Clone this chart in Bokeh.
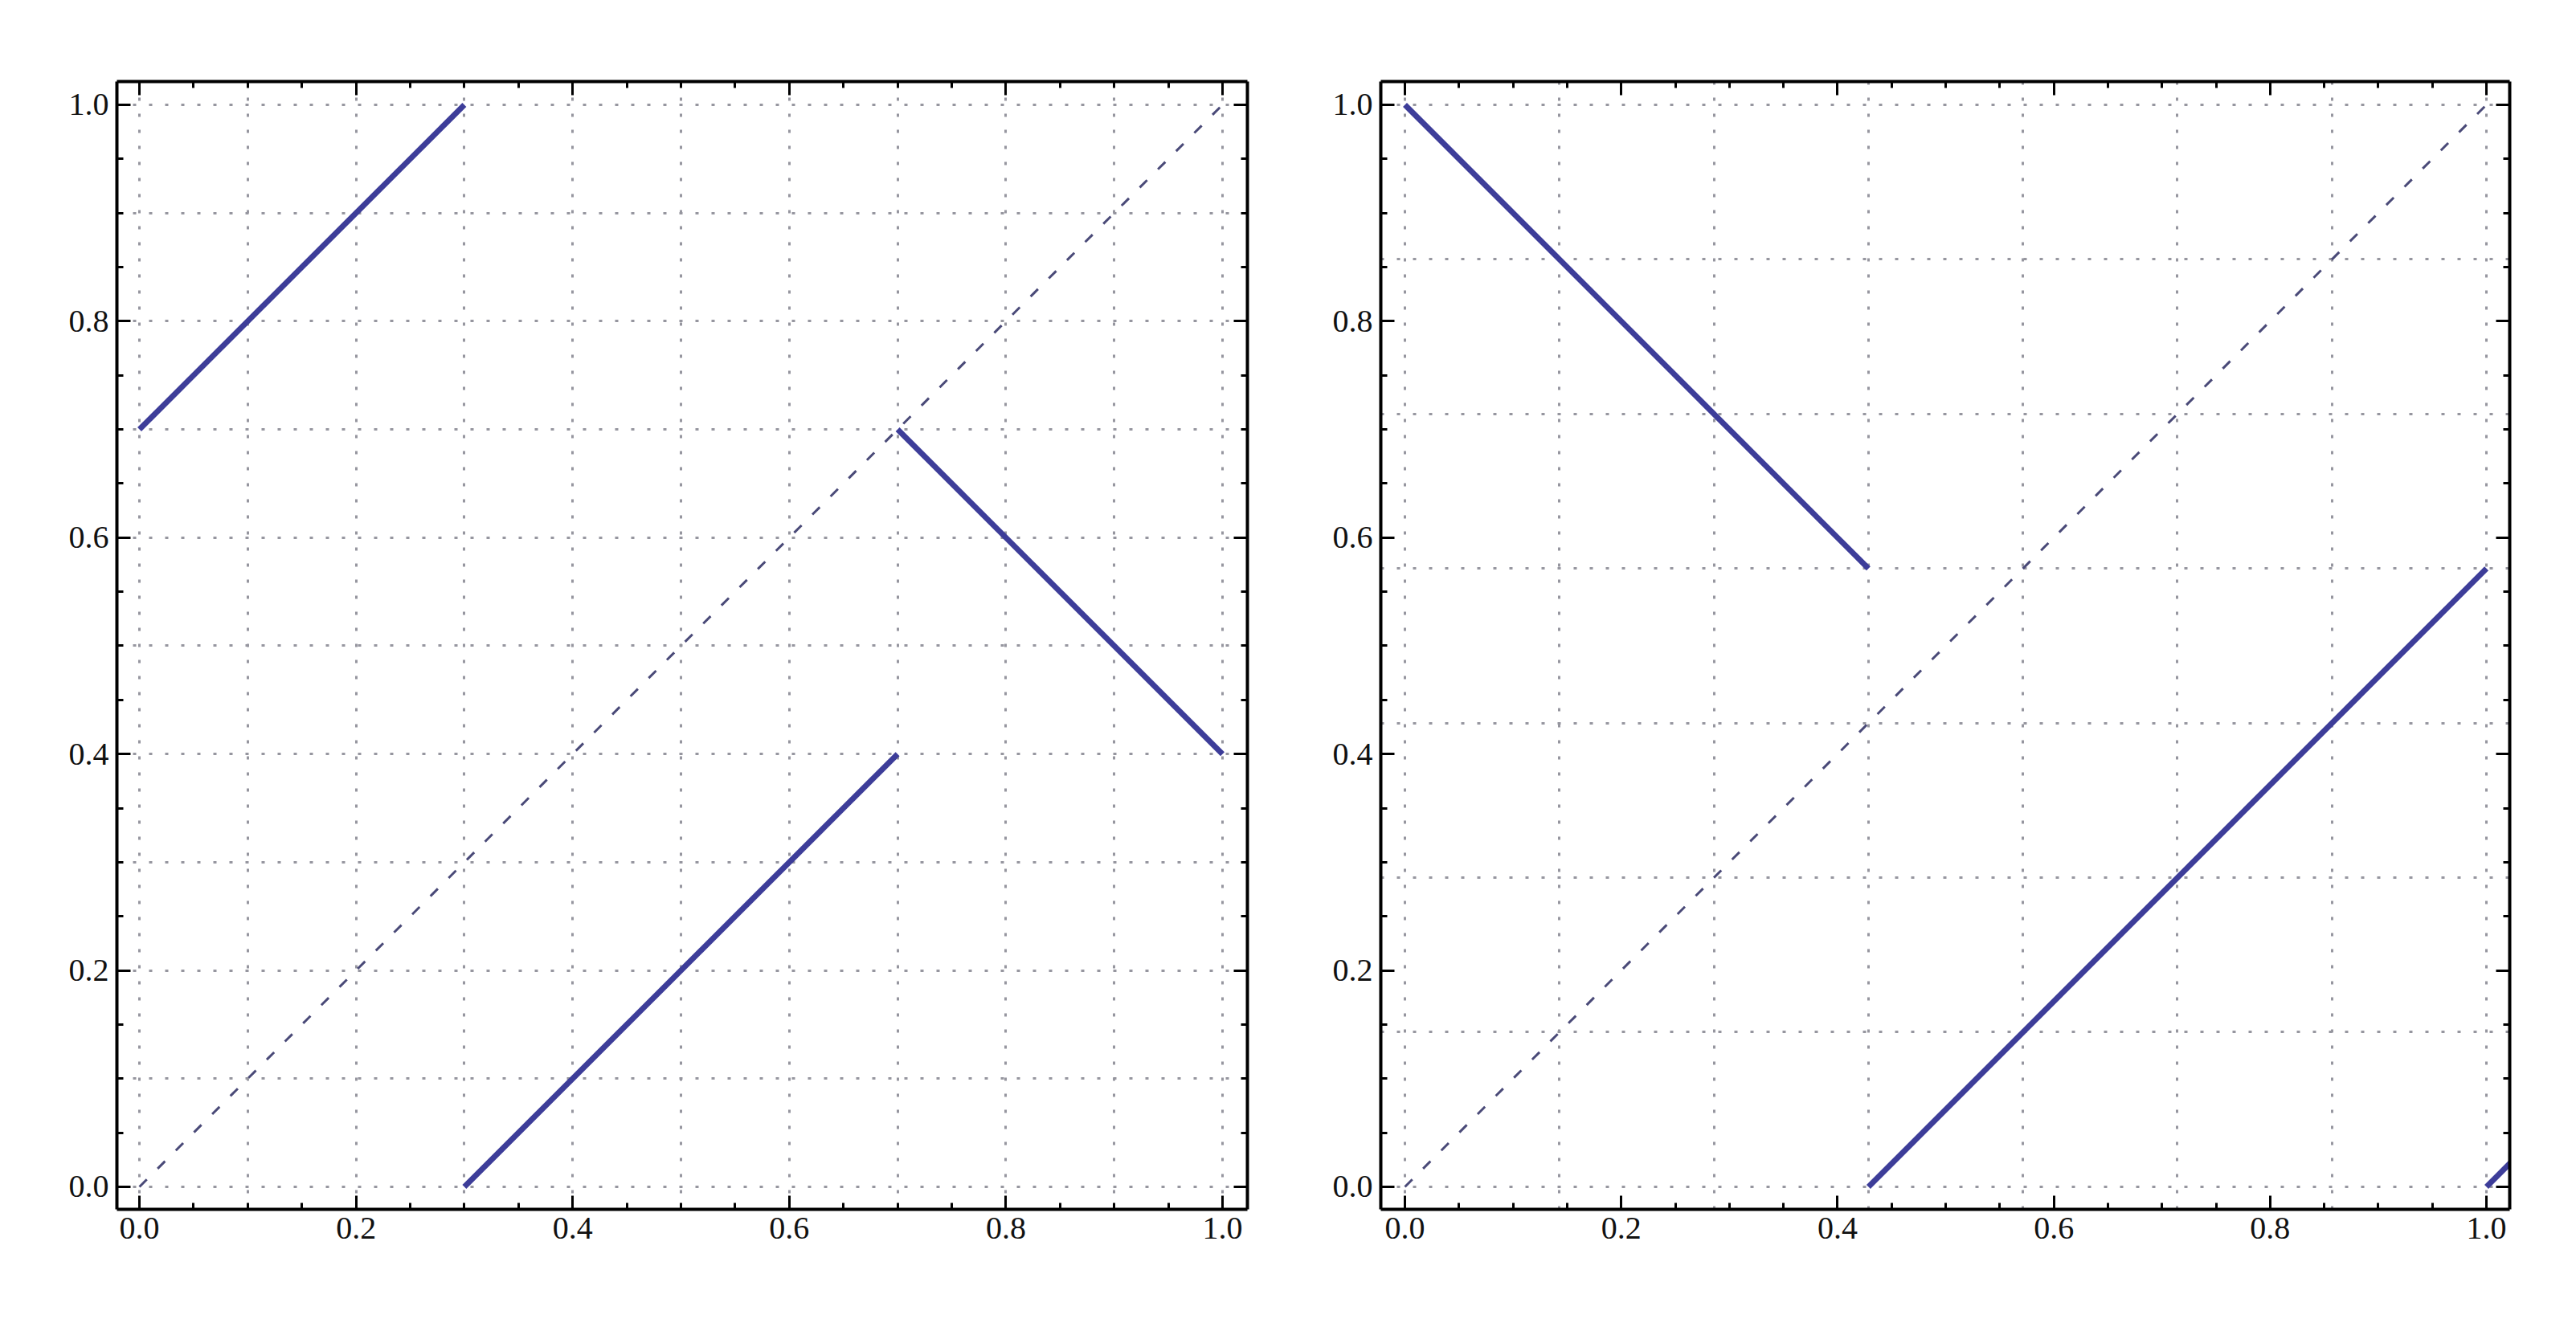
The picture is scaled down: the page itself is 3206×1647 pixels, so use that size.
from bokeh.plotting import figure
from bokeh.layouts import row
from bokeh.models import FixedTicker, LinearAxis, CustomJSTickFormatter, Range1d
from bokeh.embed import file_html
from bokeh.resources import INLINE

# ---- data ----
# left panel: piecewise map segments
left_seg_x0 = [0.0, 0.3, 0.7]
left_seg_y0 = [0.7, 0.0, 0.7]
left_seg_x1 = [0.3, 0.7, 1.0]
left_seg_y1 = [1.0, 0.4, 0.4]

# right panel: piecewise map segments
right_seg_x0 = [0.0, 0.4286, 1.0]
right_seg_y0 = [1.0, 0.0, 0.0]
right_seg_x1 = [0.4286, 1.0, 1.1]
right_seg_y1 = [0.5714, 0.5714, 0.1]

# diagonal reference y = x
diag_x = [0.0, 1.0]
diag_y = [0.0, 1.0]

# grid positions
grid_left = [0.0, 0.1, 0.2, 0.3, 0.4, 0.5, 0.6, 0.7, 0.8, 0.9, 1.0]
grid_right = [0.0, 0.1429, 0.2857, 0.4286, 0.5714, 0.7143, 0.8571, 1.0]

# ticks
major_ticks = [0.0, 0.2, 0.4, 0.6, 0.8, 1.0]
minor_ticks = [0.05, 0.1, 0.15, 0.25, 0.3, 0.35, 0.45, 0.5, 0.55,
               0.65, 0.7, 0.75, 0.85, 0.9, 0.95]
tick_labels = ["0.0", "0.2", "0.4", "0.6", "0.8", "1.0"]

LINE_COLOR = "#3d3d99"
DIAG_COLOR = "#4a4a78"
GRID_COLOR = "#96969f"
FONT = "Liberation Serif"


def style_axis(ax, labels=True):
    ax.ticker = FixedTicker(ticks=major_ticks, minor_ticks=minor_ticks)
    ax.axis_line_color = "black"
    ax.axis_line_width = 4
    ax.major_tick_line_color = "black"
    ax.major_tick_line_width = 3
    ax.minor_tick_line_color = "black"
    ax.minor_tick_line_width = 3
    ax.major_tick_in = 17
    ax.major_tick_out = 0
    ax.minor_tick_in = 8
    ax.minor_tick_out = 0
    if labels:
        ax.major_label_overrides = {t: l for t, l in zip(major_ticks, tick_labels)}
        ax.major_label_text_font = FONT
        ax.major_label_text_font_size = "40px"
        ax.major_label_text_color = "#111111"
        ax.major_label_standoff = 10
    else:
        ax.formatter = CustomJSTickFormatter(code="return ''")
        ax.major_label_text_font_size = "1px"
        ax.major_label_standoff = 0


def make_panel(xr, yr, gridpos, sx0, sy0, sx1, sy1, bl, br, fw):
    p = figure(frame_width=fw, frame_height=1404,
               x_range=Range1d(*xr), y_range=Range1d(*yr),
               output_backend="svg", toolbar_location=None,
               min_border_left=bl, min_border_right=br,
               min_border_top=101, min_border_bottom=80,
               x_axis_location=None, y_axis_location=None)
    p.outline_line_color = None
    p.background_fill_color = "white"
    p.border_fill_color = "white"

    bottom = LinearAxis()
    left = LinearAxis()
    top = LinearAxis()
    right = LinearAxis()
    style_axis(bottom, True)
    style_axis(left, True)
    style_axis(top, False)
    style_axis(right, False)
    p.add_layout(bottom, "below")
    p.add_layout(left, "left")
    p.add_layout(top, "above")
    p.add_layout(right, "right")

    p.xgrid.ticker = FixedTicker(ticks=gridpos)
    p.ygrid.ticker = FixedTicker(ticks=gridpos)
    for g in (p.xgrid, p.ygrid):
        g.grid_line_color = GRID_COLOR
        g.grid_line_width = 3
        g.grid_line_dash = "4 16"
        g.minor_grid_line_color = None

    p.line(diag_x, diag_y, line_color=DIAG_COLOR, line_width=3,
           line_dash="13 19")
    p.segment(sx0, sy0, sx1, sy1, line_color=LINE_COLOR, line_width=7)
    return p


p1 = make_panel((-0.0208, 1.023), (-0.0208, 1.0215), grid_left,
                left_seg_x0, left_seg_y0, left_seg_x1, left_seg_y1,
                145, 29, 1407)
p2 = make_panel((-0.0223, 1.0215), (-0.0208, 1.0215), grid_right,
                right_seg_x0, right_seg_y0, right_seg_x1, right_seg_y1,
                137, 30, 1405)

layout = row(p1, p2)
open("out.html", "w").write(file_html(layout, INLINE))
